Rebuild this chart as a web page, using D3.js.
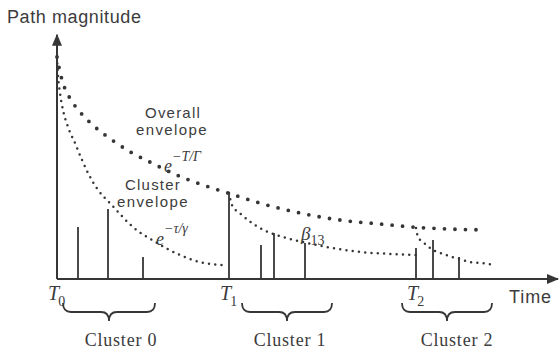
<!DOCTYPE html>
<html>
<head>
<meta charset="utf-8">
<script src="https://cdn.jsdelivr.net/npm/d3@7"></script>
<style>
  html, body { margin: 0; padding: 0; background: #fff; }
  svg { display: block; }
  .sans { font-family: "Liberation Sans", Arial, sans-serif; fill: #3c3c3c; }
  .serif { font-family: "Liberation Serif", "Times New Roman", serif; fill: #3c3c3c; }
</style>
</head>
<body>
<svg id="chart" width="560" height="356"></svg>
<script>
// Multipath arrivals: ray arrival times and magnitudes
const rayTimes = [0.42, 1.02, 1.72, 3.44, 4.08, 4.34, 4.96, 7.18, 7.52, 8.04];
const rayMags  = [0.236, 0.318, 0.10, 0.391, 0.155, 0.209, 0.164, 0.141, 0.177, 0.10];

// Cluster arrival times and their labels
const clusterTimes = [0, 3.44, 7.18];
const clusterSubs = ["0", "1", "2"];
const clusterNames = ["Cluster 0", "Cluster 1", "Cluster 2"];
const braceStart = [0.12, 3.70, 6.90];
const braceEnd   = [1.96, 5.50, 8.70];

// Overall (cluster) envelope e^{-T/Γ}
const overallT = [0, 0.06, 0.14, 0.28, 0.46, 0.74, 1.10, 1.50, 1.90, 2.30, 2.86, 3.42, 4.06, 4.86, 5.66, 6.46, 7.12, 7.86, 8.56];
const overallM = [1.009, 0.941, 0.877, 0.814, 0.759, 0.695, 0.632, 0.573, 0.527, 0.482, 0.432, 0.391, 0.345, 0.30, 0.268, 0.25, 0.236, 0.227, 0.223];

// Ray envelopes e^{-τ/γ} inside each cluster
const cluster0T = [0, 0.02, 0.06, 0.12, 0.22, 0.36, 0.50, 0.62, 0.82, 1.06, 1.52, 2.0, 2.46, 2.86, 3.30];
const cluster0M = [1.009, 0.927, 0.845, 0.768, 0.691, 0.618, 0.541, 0.482, 0.405, 0.345, 0.236, 0.164, 0.109, 0.077, 0.064];
const cluster1T = [3.44, 3.50, 3.70, 3.96, 4.22, 4.52, 4.92, 5.40, 6.06, 6.66, 7.18];
const cluster1M = [0.391, 0.336, 0.291, 0.245, 0.214, 0.191, 0.168, 0.145, 0.123, 0.114, 0.109];
const cluster2T = [7.18, 7.22, 7.32, 7.44, 7.56, 7.72, 7.90, 8.06, 8.26, 8.46, 8.76];
const cluster2M = [0.232, 0.191, 0.168, 0.145, 0.127, 0.114, 0.10, 0.091, 0.077, 0.073, 0.064];

const svg = d3.select("#chart");
const ink = "#363636";

const x = d3.scaleLinear().domain([0, 10]).range([57, 557]);
const y = d3.scaleLinear().domain([0, 1]).range([279, 59]);

// Axes with arrow heads
svg.append("defs").append("marker")
  .attr("id", "arrow")
  .attr("viewBox", "0 0 12 10")
  .attr("refX", 11).attr("refY", 5)
  .attr("markerWidth", 12).attr("markerHeight", 10)
  .attr("markerUnits", "userSpaceOnUse")
  .attr("orient", "auto")
  .append("path")
  .attr("d", "M0,0 L12,5 L0,10 Z")
  .attr("fill", ink);

svg.append("line")
  .attr("x1", x(0)).attr("y1", y(0))
  .attr("x2", x(0)).attr("y2", y(1.11))
  .attr("stroke", ink).attr("stroke-width", 2)
  .attr("marker-end", "url(#arrow)");

svg.append("line")
  .attr("x1", x(0)).attr("y1", y(0))
  .attr("x2", x(10.02)).attr("y2", y(0))
  .attr("stroke", ink).attr("stroke-width", 2)
  .attr("marker-end", "url(#arrow)");

// Rays
svg.append("g").selectAll("line")
  .data(rayTimes.map((t, i) => ({ t, m: rayMags[i] })))
  .join("line")
  .attr("x1", d => x(d.t)).attr("x2", d => x(d.t))
  .attr("y1", y(0)).attr("y2", d => y(d.m))
  .attr("stroke", ink).attr("stroke-width", 1.8);

// Dotted envelopes
const line = d3.line()
  .x(d => x(d.t)).y(d => y(d.m))
  .curve(d3.curveMonotoneX);

function envelope(ts, ms, width, gap) {
  svg.append("path")
    .datum(ts.map((t, i) => ({ t, m: ms[i] })))
    .attr("d", line)
    .attr("fill", "none")
    .attr("stroke", ink)
    .attr("stroke-width", width)
    .attr("stroke-linecap", "round")
    .attr("stroke-dasharray", `0 ${gap}`);
}

envelope(overallT, overallM, 3.8, 10.5);
envelope(cluster0T, cluster0M, 2.5, 6.3);
envelope(cluster1T, cluster1M, 2.5, 6.3);
envelope(cluster2T, cluster2M, 2.5, 6.3);

// Axis titles
svg.append("text").attr("class", "sans")
  .attr("x", 7).attr("y", 23)
  .attr("font-size", 18).attr("letter-spacing", 0.6)
  .text("Path magnitude");

svg.append("text").attr("class", "sans")
  .attr("x", 509).attr("y", 303)
  .attr("font-size", 18).attr("letter-spacing", 0.9)
  .text("Time");

// Envelope annotations
svg.append("text").attr("class", "sans")
  .attr("x", 173).attr("y", 118)
  .attr("text-anchor", "middle")
  .attr("font-size", 15).attr("letter-spacing", 1.2)
  .text("Overall");
svg.append("text").attr("class", "sans")
  .attr("x", 172).attr("y", 135)
  .attr("text-anchor", "middle")
  .attr("font-size", 15).attr("letter-spacing", 1.4)
  .text("envelope");

const eOverall = svg.append("text").attr("class", "serif")
  .attr("x", 164).attr("y", 172)
  .attr("font-style", "italic").attr("font-size", 18);
eOverall.append("tspan").text("e");
eOverall.append("tspan").attr("dy", -11).attr("font-size", 14).text("−T/Γ");

svg.append("text").attr("class", "sans")
  .attr("x", 153).attr("y", 190)
  .attr("text-anchor", "middle")
  .attr("font-size", 15).attr("letter-spacing", 1.2)
  .text("Cluster");
svg.append("text").attr("class", "sans")
  .attr("x", 153).attr("y", 207)
  .attr("text-anchor", "middle")
  .attr("font-size", 15).attr("letter-spacing", 1.4)
  .text("envelope");

const eCluster = svg.append("text").attr("class", "serif")
  .attr("x", 156).attr("y", 245)
  .attr("font-style", "italic").attr("font-size", 18);
eCluster.append("tspan").text("e");
eCluster.append("tspan").attr("dy", -12).attr("font-size", 14).text("−τ/γ");

// Ray gain label β13
const beta = svg.append("text").attr("class", "serif")
  .attr("x", 301).attr("y", 240)
  .attr("font-style", "italic").attr("font-size", 19);
beta.append("tspan").text("β");
beta.append("tspan").attr("dy", 5).attr("font-style", "normal").attr("font-size", 14).text("13");

// Cluster arrival labels T0, T1, T2
clusterTimes.forEach((t, i) => {
  const lab = svg.append("text").attr("class", "serif")
    .attr("x", x(t) - 9).attr("y", 300)
    .attr("font-style", "italic").attr("font-size", 20);
  lab.append("tspan").text("T");
  lab.append("tspan").attr("dy", 6).attr("dx", -1).attr("font-style", "normal").attr("font-size", 14).text(clusterSubs[i]);
});

// Braces under each cluster
function brace(x0, x1) {
  const top = 303, mid = 312, tip = 321, r = 8;
  const xm = (x0 + x1) / 2;
  const p = d3.path();
  p.moveTo(x0, top);
  p.quadraticCurveTo(x0, mid, x0 + r, mid);
  p.lineTo(xm - r, mid);
  p.quadraticCurveTo(xm, mid, xm, tip);
  p.quadraticCurveTo(xm, mid, xm + r, mid);
  p.lineTo(x1 - r, mid);
  p.quadraticCurveTo(x1, mid, x1, top);
  return p.toString();
}

// Cluster names sit slightly right of each brace tip
const nameShift = [12, 3, 10];
clusterNames.forEach((name, i) => {
  const x0 = x(braceStart[i]), x1 = x(braceEnd[i]);
  svg.append("path")
    .attr("d", brace(x0, x1))
    .attr("fill", "none")
    .attr("stroke", ink)
    .attr("stroke-width", 1.8);
  svg.append("text").attr("class", "serif")
    .attr("x", (x0 + x1) / 2 + nameShift[i]).attr("y", 346)
    .attr("text-anchor", "middle")
    .attr("font-size", 18).attr("letter-spacing", 0.8)
    .text(name);
});
</script>
</body>
</html>
